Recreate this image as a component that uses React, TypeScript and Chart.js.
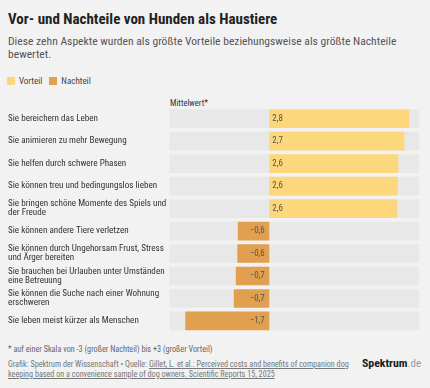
import React, { useEffect, useRef } from "react";
import { Chart, registerables } from "chart.js";

Chart.register(...registerables);

const categories: (string | string[])[] = [
  "Sie bereichern das Leben",
  "Sie animieren zu mehr Bewegung",
  "Sie helfen durch schwere Phasen",
  "Sie können treu und bedingungslos lieben",
  ["Sie bringen schöne Momente des Spiels und", "der Freude"],
  "Sie können andere Tiere verletzen",
  ["Sie können durch Ungehorsam Frust, Stress", "und Ärger bereiten"],
  ["Sie brauchen bei Urlauben unter Umständen", "eine Betreuung"],
  ["Sie können die Suche nach einer Wohnung", "erschweren"],
  "Sie leben meist kürzer als Menschen",
];
const values = [2.8, 2.7, 2.58, 2.57, 2.56, -0.63, -0.64, -0.67, -0.71, -1.68];
const scaleMin = -2;
const scaleMax = 3;
const legendLabels = ["Vorteil", "Nachteil"];

const YELLOW = "#fdd77b";
const ORANGE = "#e0a04f";
const ROWBG = "#e8e8e8";
const PAGEBG = "#f2f2f2";
const FONT = "'Liberation Sans Narrow', 'Roboto Condensed', Roboto, sans-serif";

const fmt = (v: number) => (v < 0 ? "\u2212" : "") + Math.abs(v).toFixed(1).replace(".", ",");

const valueLabelPlugin = {
  id: "valueLabels",
  afterDatasetsDraw(chart: any) {
    const ctx = chart.ctx;
    const meta = chart.getDatasetMeta(0);
    const x0 = chart.scales.x.getPixelForValue(0);
    ctx.save();
    ctx.font = `9px ${FONT}`;
    ctx.fillStyle = "#555";
    ctx.textBaseline = "middle";
    meta.data.forEach((bar: any, i: number) => {
      const v = values[i];
      if (v >= 0) {
        ctx.textAlign = "left";
        ctx.fillText(fmt(v), x0 + 3, bar.y);
      } else {
        ctx.textAlign = "right";
        ctx.fillText(fmt(v), x0 - 4.5, bar.y);
      }
    });
    ctx.restore();
  },
};

function BarChart() {
  const ref = useRef<HTMLCanvasElement | null>(null);
  useEffect(() => {
    if (!ref.current) return;
    const chart = new Chart(ref.current, {
      type: "bar",
      data: {
        labels: categories as any,
        datasets: [
          {
            data: values,
            backgroundColor: values.map((v) => (v >= 0 ? YELLOW : ORANGE)),
            barPercentage: 1,
            categoryPercentage: 0.832,
            grouped: false,
            order: 1,
          } as any,
          {
            data: categories.map(() => [scaleMin, scaleMax]),
            backgroundColor: ROWBG,
            barPercentage: 1,
            categoryPercentage: 0.832,
            grouped: false,
            order: 2,
          } as any,
        ],
      },
      options: {
        indexAxis: "y",
        animation: false,
        responsive: false,
        maintainAspectRatio: false,
        layout: { padding: { left: 8, right: 10.7, top: 7.4, bottom: 7.8 } },
        scales: {
          x: { min: scaleMin, max: scaleMax, display: false },
          y: {
            grid: { display: false },
            border: { display: false },
            ticks: {
              crossAlign: "far",
              color: "#333",
              padding: 0,
              font: { family: FONT, size: 9.1, lineHeight: 0.98 },
            },
            afterFit: (s: any) => {
              s.width = 161.3;
            },
          } as any,
        },
        plugins: { legend: { display: false }, tooltip: { enabled: false } },
      },
      plugins: [valueLabelPlugin],
    });
    return () => chart.destroy();
  }, []);
  return (
    <canvas
      ref={ref}
      width={430}
      height={240}
      style={{ position: "absolute", left: 0, top: 100, width: 430, height: 240, display: "block" }}
    />
  );
}

export default function App() {
  return (
    <div
      style={{
        position: "absolute",
        left: 0,
        top: 0,
        width: 430,
        height: 388,
        background: PAGEBG,
        fontFamily: FONT,
        overflow: "hidden",
      }}
    >
      <div style={{ position: "absolute", left: 8, top: 10, fontSize: 15, fontWeight: 700, lineHeight: "18px", color: "#222", whiteSpace: "nowrap" }}>
        Vor- und Nachteile von Hunden als Haustiere
      </div>
      <div style={{ position: "absolute", left: 8, top: 35, width: 420, fontSize: 11.6, lineHeight: "12.5px", color: "#555" }}>
        Diese zehn Aspekte wurden als größte Vorteile beziehungsweise als größte Nachteile
        <br />
        bewertet.
      </div>
      <div style={{ position: "absolute", left: 7, top: 77, display: "flex", alignItems: "center", fontSize: 9, lineHeight: "8px", color: "#444" }}>
        <span style={{ width: 8, height: 8, background: YELLOW, display: "inline-block", marginRight: 4 }} />
        <span style={{ marginRight: 7 }}>{legendLabels[0]}</span>
        <span style={{ width: 8, height: 8, background: ORANGE, display: "inline-block", marginRight: 4 }} />
        <span>{legendLabels[1]}</span>
      </div>
      <div style={{ position: "absolute", left: 170, top: 98, fontSize: 8.5, lineHeight: "10px", color: "#333" }}>Mittelwert*</div>
      <BarChart />
      <div style={{ position: "absolute", left: 8, top: 344, fontSize: 8.2, lineHeight: "10px", color: "#666", whiteSpace: "nowrap" }}>
        * auf einer Skala von -3 (großer Nachteil) bis +3 (großer Vorteil)
      </div>
      <div style={{ position: "absolute", left: 8, top: 360, fontSize: 8.15, lineHeight: "9.7px", color: "#777", whiteSpace: "nowrap" }}>
        Grafik: Spektrum der Wissenschaft • Quelle:{" "}
        <span style={{ textDecoration: "underline" }}>Gillet, L. et al.: Perceived costs and benefits of companion dog</span>
        <br />
        <span style={{ textDecoration: "underline" }}>keeping based on a convenience sample of dog owners. Scientific Reports 15, 2025</span>
      </div>
      <div style={{ position: "absolute", left: 362, top: 356, fontSize: 11.8, lineHeight: "14px", whiteSpace: "nowrap" }}>
        <span style={{ fontWeight: 700, color: "#1a1a1a" }}>Spektrum</span>
        <span style={{ color: "#999", fontSize: 11 }}>.de</span>
      </div>
    </div>
  );
}
